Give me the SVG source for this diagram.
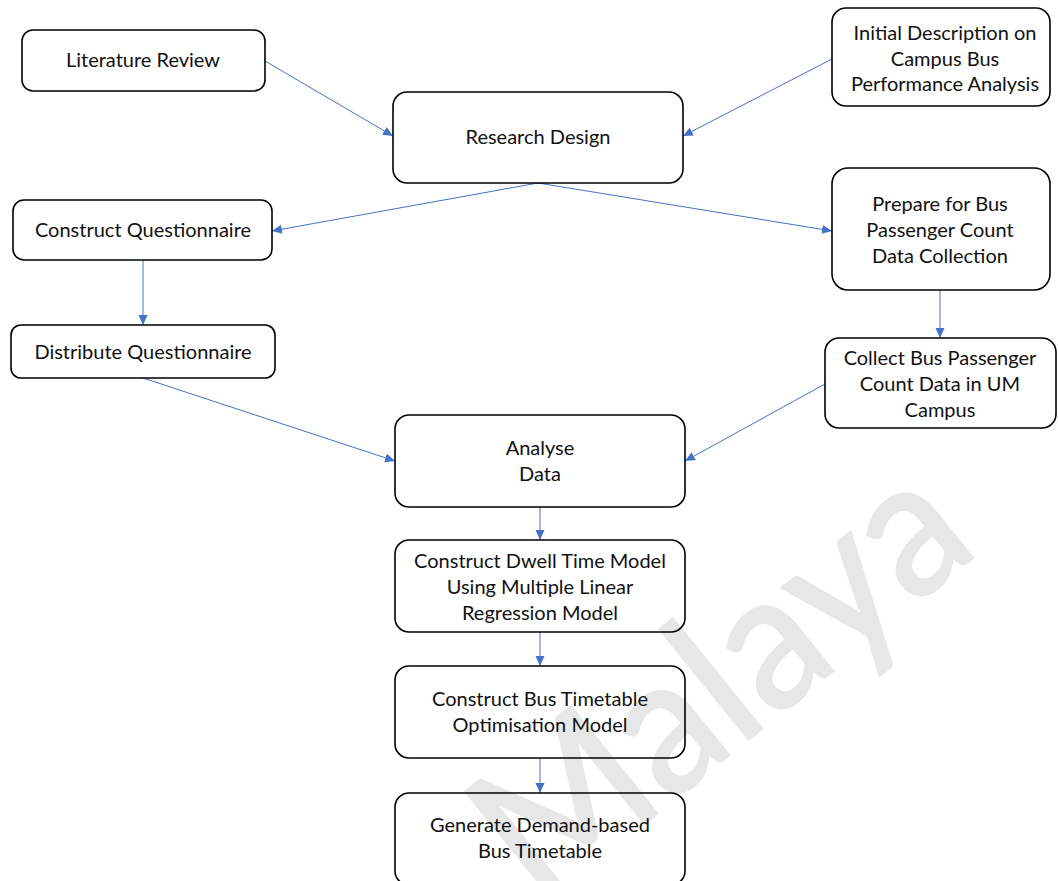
<svg xmlns="http://www.w3.org/2000/svg" width="1058" height="881" viewBox="0 0 1058 881">
<defs>
<style>
.box{fill:none;stroke:#000;stroke-width:1.6}
.lbl{font-family:Lato,"Open Sans",sans-serif;font-size:20px;fill:#111;text-anchor:middle}
.conn{stroke:#4472C4;stroke-width:1;fill:none;marker-end:url(#arr)}
.wm{font-family:Lato,"Open Sans",sans-serif;font-size:195px;font-weight:600;fill:#e7e7e7}
</style>
<marker id="arr" markerUnits="userSpaceOnUse" markerWidth="11" markerHeight="10" refX="10" refY="4.5" orient="auto">
<path d="M0,0 L10,4.5 L0,9 z" fill="#4472C4"/>
</marker>
</defs>
<rect width="1058" height="881" fill="#fff"/>
<text class="wm" textLength="570" lengthAdjust="spacingAndGlyphs" transform="translate(540,910) rotate(-39)">Malaya</text>
<g id="connectors">
<line class="conn" x1="265" y1="61" x2="393" y2="136"/>
<line class="conn" x1="832" y1="59" x2="683" y2="136"/>
<line class="conn" x1="538" y1="183" x2="272" y2="231"/>
<line class="conn" x1="538" y1="183" x2="832" y2="231"/>
<line class="conn" x1="143" y1="260" x2="143" y2="325"/>
<line class="conn" x1="143" y1="378" x2="395" y2="461"/>
<line class="conn" x1="940" y1="290" x2="940" y2="338"/>
<line class="conn" x1="825" y1="384" x2="685" y2="461"/>
<line class="conn" x1="540" y1="507" x2="540" y2="540"/>
<line class="conn" x1="540" y1="632" x2="540" y2="666"/>
<line class="conn" x1="540" y1="758" x2="540" y2="793"/>
</g>
<g id="literature-review">
<rect class="box" x="22" y="30" width="243" height="61" rx="11"/>
<text class="lbl" x="143" y="67">Literature Review</text>
</g>
<g id="research-design">
<rect class="box" x="393" y="92" width="290" height="91" rx="14"/>
<text class="lbl" x="538" y="144">Research Design</text>
</g>
<g id="initial-description">
<rect class="box" x="832" y="8" width="218" height="98" rx="14"/>
<text class="lbl" x="945" y="40">Initial Description on</text>
<text class="lbl" x="945" y="66">Campus Bus</text>
<text class="lbl" x="945" y="91">Performance Analysis</text>
</g>
<g id="construct-questionnaire">
<rect class="box" x="13" y="200" width="259" height="60" rx="11"/>
<text class="lbl" x="143" y="237">Construct Questionnaire</text>
</g>
<g id="prepare-bus-count">
<rect class="box" x="832" y="168" width="218" height="122" rx="16"/>
<text class="lbl" x="940" y="211">Prepare for Bus</text>
<text class="lbl" x="940" y="237">Passenger Count</text>
<text class="lbl" x="940" y="263">Data Collection</text>
</g>
<g id="distribute-questionnaire">
<rect class="box" x="11" y="325" width="264" height="53" rx="10"/>
<text class="lbl" x="143" y="359">Distribute Questionnaire</text>
</g>
<g id="collect-bus-count">
<rect class="box" x="825" y="338" width="231" height="90" rx="14"/>
<text class="lbl" x="940" y="365">Collect Bus Passenger</text>
<text class="lbl" x="940" y="391">Count Data in UM</text>
<text class="lbl" x="940" y="417">Campus</text>
</g>
<g id="analyse-data">
<rect class="box" x="395" y="415" width="290" height="92" rx="14"/>
<text class="lbl" x="540" y="455">Analyse</text>
<text class="lbl" x="540" y="481">Data</text>
</g>
<g id="dwell-time-model">
<rect class="box" x="395" y="540" width="290" height="92" rx="14"/>
<text class="lbl" x="540" y="568">Construct Dwell Time Model</text>
<text class="lbl" x="540" y="594">Using Multiple Linear</text>
<text class="lbl" x="540" y="620">Regression Model</text>
</g>
<g id="timetable-model">
<rect class="box" x="395" y="666" width="290" height="92" rx="14"/>
<text class="lbl" x="540" y="706">Construct Bus Timetable</text>
<text class="lbl" x="540" y="732">Optimisation Model</text>
</g>
<g id="generate-timetable">
<rect class="box" x="395" y="793" width="290" height="92" rx="14"/>
<text class="lbl" x="540" y="832">Generate Demand-based</text>
<text class="lbl" x="540" y="858">Bus Timetable</text>
</g>
</svg>
